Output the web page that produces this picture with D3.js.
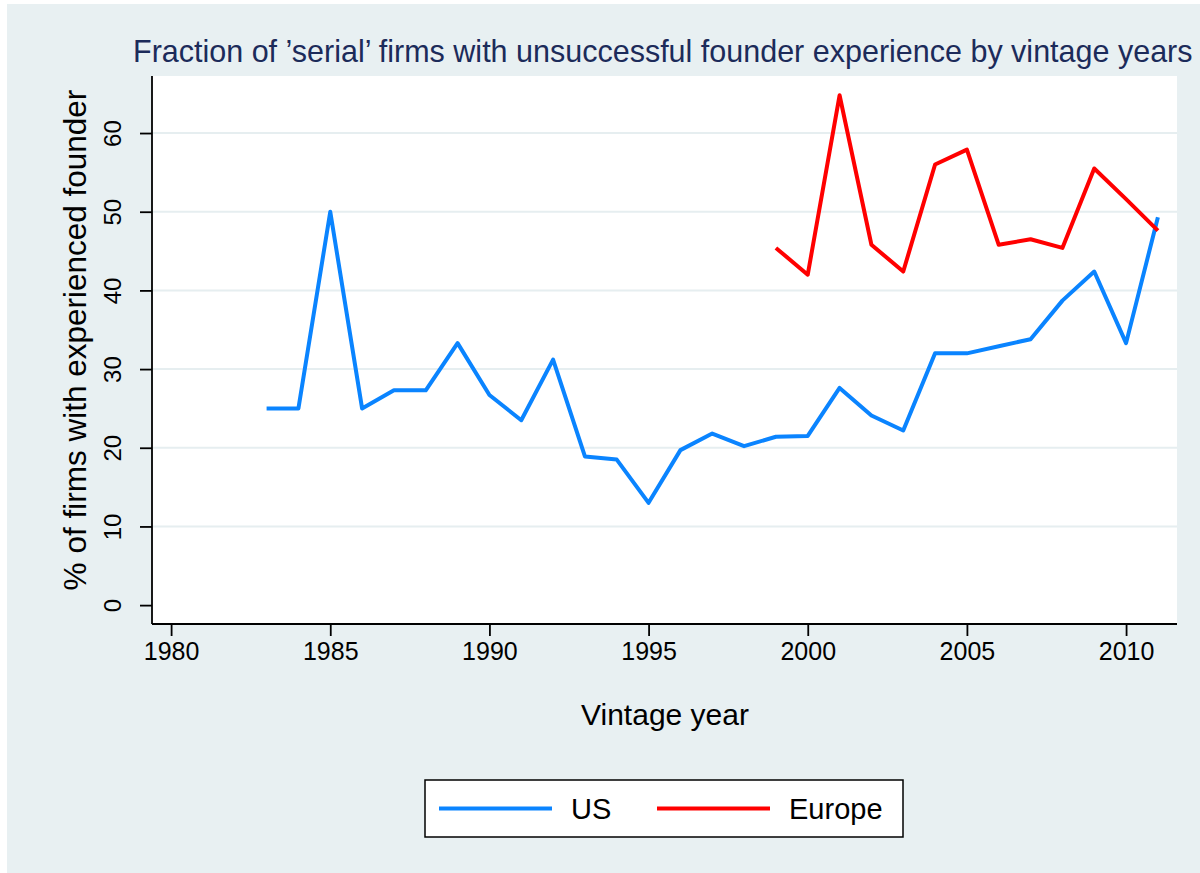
<!DOCTYPE html>
<html>
<head>
<meta charset="utf-8">
<script src="https://cdn.jsdelivr.net/npm/d3@7"></script>
<style>
  body { margin: 0; background: #ffffff; }
  svg { display: block; font-family: "Liberation Sans", Arial, Helvetica, sans-serif; }
</style>
</head>
<body>
<div id="host"></div>
<script>
// Data
const usYears = [1983, 1984, 1985, 1986, 1987, 1988, 1989, 1990, 1991, 1992, 1993, 1994, 1995, 1996, 1997,
    1998, 1999, 2000, 2001, 2002, 2003, 2004, 2005, 2006, 2007, 2008, 2009, 2010, 2011];
const usValues = [25, 25, 50, 25, 27.3, 27.3, 33.3, 26.7, 23.5, 31.2, 18.9, 18.5, 13, 19.7, 21.8,
    20.2, 21.4, 21.5, 27.6, 24.1, 22.2, 32, 32, 32.9, 33.8, 38.7, 42.4, 33.3, 49.3];
const euYears = [1999, 2000, 2001, 2002, 2003, 2004, 2005, 2006, 2007, 2008, 2009, 2010, 2011];
const euValues = [45.4, 42, 64.8, 45.8, 42.4, 56, 57.9, 45.8, 46.5, 45.4, 55.5, 51.6, 47.6];
const xTicks = [1980, 1985, 1990, 1995, 2000, 2005, 2010];
const yTicks = [0, 10, 20, 30, 40, 50, 60];
const seriesNames = ["US", "Europe"];
const seriesColors = ["#0a84ff", "#ff0000"];

const width = 1200;
const height = 873;
const plot = {left: 152, right: 1177, top: 76, bottom: 624};

const svg = d3.select("#host").append("svg")
    .attr("width", width)
    .attr("height", height);

// Outer background
svg.append("rect")
    .attr("x", 7).attr("y", 4)
    .attr("width", width - 7).attr("height", height - 4)
    .attr("fill", "#e8f0f2");

// Plot region
svg.append("rect")
    .attr("x", plot.left).attr("y", plot.top)
    .attr("width", plot.right - plot.left).attr("height", plot.bottom - plot.top)
    .attr("fill", "#ffffff");

const x = d3.scaleLinear()
    .domain([1979.4, 2011.6])
    .range([plot.left, plot.right]);
const y = d3.scaleLinear()
    .domain([-2.4, 67.25])
    .range([plot.bottom, plot.top]);

// Gridlines
svg.append("g").selectAll("line")
    .data(yTicks.filter(t => t > 0))
    .join("line")
    .attr("x1", plot.left).attr("x2", plot.right)
    .attr("y1", d => y(d)).attr("y2", d => y(d))
    .attr("stroke", "#e6eef0")
    .attr("stroke-width", 2);

// Lines
const line = d3.line()
    .x(d => x(d[0]))
    .y(d => y(d[1]));

const series = [
    d3.zip(usYears, usValues),
    d3.zip(euYears, euValues)
];

svg.append("g").selectAll("path")
    .data(series)
    .join("path")
    .attr("d", line)
    .attr("fill", "none")
    .attr("stroke", (d, i) => seriesColors[i])
    .attr("stroke-width", 4)
    .attr("stroke-linejoin", "round");

// X axis
const xAxis = svg.append("g")
    .attr("transform", `translate(0,${plot.bottom})`)
    .call(d3.axisBottom(x).tickValues(xTicks).tickFormat(d3.format("d")).tickSize(12).tickPadding(6));
xAxis.select(".domain").attr("stroke", "#000").attr("stroke-width", 1.8)
    .attr("d", `M${plot.left},0H${plot.right}`);
xAxis.selectAll(".tick line").attr("stroke", "#000").attr("stroke-width", 1.8);
xAxis.selectAll(".tick text")
    .attr("fill", "#000")
    .style("font-size", "25px")
    .style("font-family", "'Liberation Sans', Arial, sans-serif");

// Y axis
const yAxis = svg.append("g")
    .attr("transform", `translate(${plot.left},0)`)
    .call(d3.axisLeft(y).tickValues(yTicks).tickSize(12).tickPadding(0));
yAxis.select(".domain").attr("stroke", "#000").attr("stroke-width", 1.8)
    .attr("d", `M0,${plot.top}V${plot.bottom}`);
yAxis.selectAll(".tick line").attr("stroke", "#000").attr("stroke-width", 1.8);
yAxis.selectAll(".tick text")
    .attr("fill", "#000")
    .attr("x", 0)
    .attr("dy", null)
    .attr("text-anchor", "middle")
    .attr("transform", "translate(-31,0) rotate(-90)")
    .attr("y", 0)
    .style("font-size", "24px")
    .style("font-family", "'Liberation Sans', Arial, sans-serif");

// Title
svg.append("text")
    .attr("x", 133)
    .attr("y", 62)
    .attr("fill", "#1c2b5a")
    .style("font-size", "30.5px")
    .text("Fraction of \u2019serial\u2019 firms with unsuccessful founder experience by vintage years");

// Axis titles
svg.append("text")
    .attr("x", 665)
    .attr("y", 725)
    .attr("text-anchor", "middle")
    .attr("fill", "#000")
    .style("font-size", "30px")
    .text("Vintage year");

svg.append("text")
    .attr("transform", "translate(86,340) rotate(-90)")
    .attr("text-anchor", "middle")
    .attr("fill", "#000")
    .style("font-size", "31.5px")
    .text("% of firms with experienced founder");

// Legend
const legend = svg.append("g");
legend.append("rect")
    .attr("x", 425).attr("y", 780)
    .attr("width", 478).attr("height", 57)
    .attr("fill", "#ffffff")
    .attr("stroke", "#000")
    .attr("stroke-width", 1.5);

const legendX = [439, 657];
seriesNames.forEach((name, i) => {
    legend.append("line")
        .attr("x1", legendX[i]).attr("x2", legendX[i] + 113)
        .attr("y1", 808.5).attr("y2", 808.5)
        .attr("stroke", seriesColors[i])
        .attr("stroke-width", 4);
    legend.append("text")
        .attr("x", legendX[i] + 132)
        .attr("y", 819)
        .attr("fill", "#000")
        .style("font-size", "29px")
        .text(name);
});
</script>
</body>
</html>
